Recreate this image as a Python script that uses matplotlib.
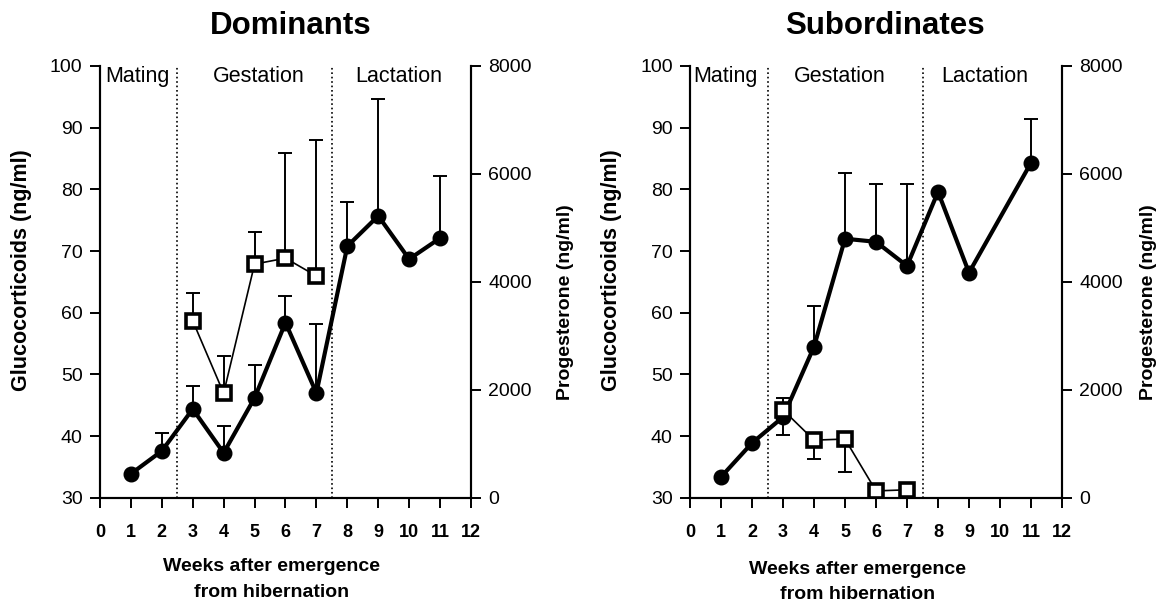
import numpy as np
import matplotlib.pyplot as plt

plt.rcParams['font.family'] = ['Liberation Sans', 'DejaVu Sans']

# Dominants
dom_weeks = [1, 2, 3, 4, 5, 6, 7, 8, 9, 10, 11]
dom_gc = [33.9, 37.6, 44.4, 37.3, 46.2, 58.4, 47.0, 70.8, 75.7, 68.7, 72.1]
dom_gc_top = [33.9, 40.5, 48.2, 41.7, 51.6, 62.7, 58.2, 78.0, 94.7, 68.7, 82.2]
dom_p_weeks = [3, 4, 5, 6, 7]
dom_p = [3280, 1940, 4330, 4440, 4110]
dom_p_top = [3800, 2630, 4930, 6390, 6630]

# Subordinates
sub_weeks = [1, 2, 3, 4, 5, 6, 7, 8, 9, 11]
sub_gc = [33.4, 38.9, 43.1, 54.5, 72.0, 71.5, 67.6, 79.6, 66.5, 84.3]
sub_gc_top = [33.4, 38.9, 46.2, 61.1, 82.7, 80.9, 80.9, 79.6, 66.5, 91.4]
sub_p_weeks = [3, 4, 5, 6, 7]
sub_p = [1630, 1070, 1090, 130, 150]
sub_p_bottom = [1170, 720, 480, 130, 150]

phases = ["Mating", "Gestation", "Lactation"]
phase_bounds = [2.5, 7.5]

fig = plt.figure(figsize=(11.65, 6.05), dpi=100)


def panel(rect, title, title_x, weeks, gc, gc_top, pw, p, p_err,
          phase_x, xlab_x, xlab_y, gl_x, pr_x):
    ax = fig.add_axes(rect)
    ax2 = ax.twinx()
    ax.set_xlim(0, 12)
    ax.set_ylim(30, 100)
    ax2.set_ylim(0, 8000)
    for b in phase_bounds:
        ax.axvline(b, color='black', linestyle=':', linewidth=1.2)
    for name, px in zip(phases, phase_x):
        ax.text(px, 97.4, name, ha='center', va='baseline', fontsize=15.5)

    gc = np.array(gc)
    up = np.array(gc_top) - gc
    ax.errorbar(weeks, gc, yerr=[np.zeros_like(up), up], fmt='none',
                ecolor='black', elinewidth=1.4, capsize=4.8, capthick=1.4)
    ax.plot(weeks, gc, color='black', linewidth=3.0, marker='o',
            markersize=10.5, zorder=3)

    ax2.errorbar(pw, p, yerr=p_err, fmt='none', ecolor='black',
                 elinewidth=1.4, capsize=4.8, capthick=1.4)
    ax2.plot(pw, p, color='black', linewidth=1.2, marker='s', markersize=10,
             markerfacecolor='white', markeredgewidth=2.6, zorder=3)

    ax.set_xticks(range(13))
    ax.set_yticks(range(30, 101, 10))
    ax2.set_yticks(range(0, 8001, 2000))
    for a in (ax, ax2):
        a.spines['top'].set_visible(False)
        a.tick_params(direction='out', length=7.5, width=1.4, labelsize=14)
        for sp in a.spines.values():
            sp.set_linewidth(1.5)
    ax.tick_params(axis='x', labelsize=13, pad=11)
    for lab in ax.get_xticklabels():
        lab.set_fontweight('bold')
    ax.tick_params(axis='y', pad=5)
    ax2.tick_params(axis='y', pad=5)
    ax.set_ylabel("Glucocorticoids (ng/ml)", fontsize=15.5, fontweight='bold')
    ax.yaxis.set_label_coords(gl_x, 0.528)
    ax2.set_ylabel("Progesterone (ng/ml)", fontsize=14, fontweight='bold')
    ax2.yaxis.set_label_coords(pr_x, 0.454)
    ax.text(title_x, 1.074, title, transform=ax.transAxes, ha='center',
            va='baseline', fontsize=22.5, fontweight='bold')
    ax.text(xlab_x, xlab_y, "Weeks after emergence\nfrom hibernation",
            ha='center', va='top', fontsize=14, fontweight='bold',
            linespacing=1.65, clip_on=False)
    return ax


dom_p_arr = np.array(dom_p)
panel([0.0858, 0.177, 0.3185, 0.714], "Dominants", 0.515, dom_weeks, dom_gc,
      dom_gc_top, dom_p_weeks, dom_p,
      [np.zeros(len(dom_p)), np.array(dom_p_top) - dom_p_arr],
      [1.2, 5.15, 9.65], 5.55, 20.2, -0.183, 1.232)

sub_p_arr = np.array(sub_p)
panel([0.5923, 0.177, 0.3193, 0.714], "Subordinates", 0.524, sub_weeks,
      sub_gc, sub_gc_top, sub_p_weeks, sub_p,
      [sub_p_arr - np.array(sub_p_bottom), np.zeros(len(sub_p))],
      [1.13, 4.84, 9.52], 5.4, 19.8, -0.183, 1.21)

fig.savefig("out.png", dpi=100)
